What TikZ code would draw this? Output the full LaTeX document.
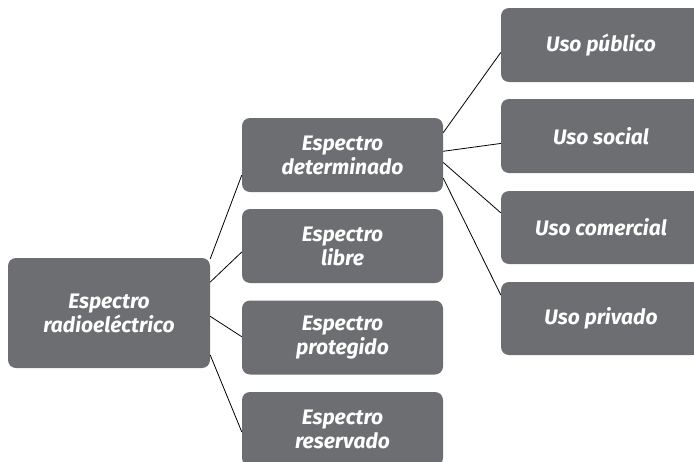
\documentclass[tikz,border=0pt]{standalone}
\usepackage{fontspec}
\setmainfont{Fira Sans}
\usetikzlibrary{calc}
\definecolor{boxgrey}{HTML}{6D6E71}
\begin{document}
\begin{tikzpicture}[x=1pt,y=1pt,
  gbox/.style={fill=boxgrey,rounded corners=8pt,text=white,align=center,
    font=\fontsize{21}{24}\selectfont\bfseries\itshape,inner sep=0pt},
  conn/.style={draw=black,line width=0.8pt}]
\useasboundingbox (0,0) rectangle (694,-461);
\clip (0,0) rectangle (694,-461);
\node[gbox,minimum width=202pt,minimum height=110pt] (root) at (109,-313) {Espectro\\radioeléctrico};
\node[gbox,minimum width=201pt,minimum height=74pt] (m1) at (342.5,-155) {Espectro\\determinado};
\node[gbox,minimum width=201pt,minimum height=74pt] (m2) at (342.5,-246) {Espectro\\libre};
\node[gbox,minimum width=201pt,minimum height=74pt] (m3) at (342.5,-337.5) {Espectro\\protegido};
\node[gbox,minimum width=201pt,minimum height=74pt] (m4) at (342.5,-429) {Espectro\\reservado};
\node[gbox,minimum width=200pt,minimum height=74pt] (r1) at (601,-45) {Uso público};
\node[gbox,minimum width=200pt,minimum height=74pt] (r2) at (601,-136) {Uso social};
\node[gbox,minimum width=200pt,minimum height=73pt] (r3) at (601,-227.5) {Uso comercial};
\node[gbox,minimum width=200pt,minimum height=73pt] (r4) at (601,-318.5) {Uso privado};
\draw[conn] ($(root.north east)!0.01!(root.south east)$) -- ($(m1.north west)!0.77!(m1.south west)$);
\draw[conn] ($(root.north east)!0.22!(root.south east)$) -- ($(m2.north west)!0.58!(m2.south west)$);
\draw[conn] ($(root.north east)!0.53!(root.south east)$) -- ($(m3.north west)!0.49!(m3.south west)$);
\draw[conn] ($(root.north east)!0.88!(root.south east)$) -- ($(m4.north west)!0.54!(m4.south west)$);
\draw[conn] ($(m1.north east)!0.2!(m1.south east)$) -- ($(r1.north west)!0.6!(r1.south west)$);
\draw[conn] ($(m1.north east)!0.45!(m1.south east)$) -- ($(r2.north west)!0.6!(r2.south west)$);
\draw[conn] ($(m1.north east)!0.6!(m1.south east)$) -- ($(r3.north west)!0.3!(r3.south west)$);
\draw[conn] ($(m1.north east)!0.81!(m1.south east)$) -- ($(r4.north west)!0.18!(r4.south west)$);
\end{tikzpicture}
\end{document}
